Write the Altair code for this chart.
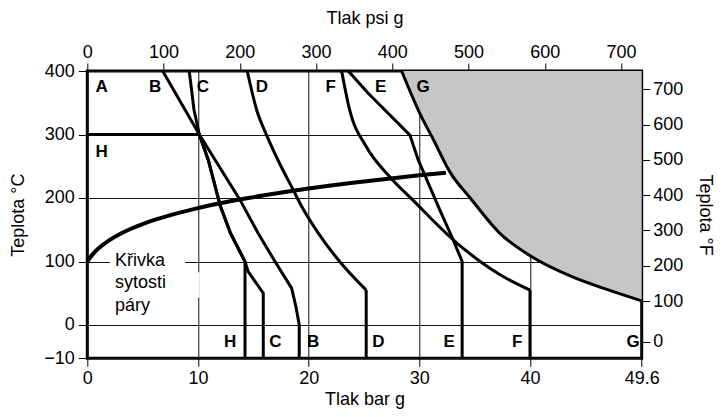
import altair as alt
import pandas as pd

# ---- data (pressure in bar g, temperature in °C) ----
B_bar = [6.81, 10.12, 13.8, 15.45, 16.96, 18.46, 18.85, 19.15, 19.15]
B_t = [400, 300, 197, 144, 100, 58, 29, 0, -10]
C_bar = [9.21, 9.64, 10.12, 10.93, 11.99, 12.95, 14.25, 14.54, 15.9, 15.9]
C_t = [400, 339, 300, 260, 189, 144, 100, 84, 50, -10]
H_bar = [0, 10.12, 10.93, 11.99, 12.95, 14.25, 14.25]
H_t = [300, 300, 260, 189, 144, 100, -10]
D_bar = [14.45, 15.3, 16.2, 17.5, 18.6, 19.3, 20.9, 22.8, 25.2, 25.2]
D_t = [400, 339, 299, 250, 213, 189, 144, 100, 55, -10]
E_bar = [23.58, 25.38, 29.15, 29.9, 31.86, 33.06, 33.87, 33.87]
E_t = [400, 365, 299, 260, 181, 134, 100, -10]
F_bar = [22.98, 23.7, 25.2, 27.3, 29.4, 33.4, 35.5, 37.3, 40.0, 40.0]
F_t = [400, 339, 281, 234, 197, 129, 100, 79, 55, -10]
G_bar = [28.4, 30.0, 31.3, 32.8, 34.6, 37.3, 40.2, 43.6, 46.6, 49.6]
G_t = [400, 335, 291, 240, 200, 144, 107, 76, 56, 38]
SAT_bar = [0, 0.5, 1, 2, 3, 4, 5, 6, 8, 10, 12, 14, 16, 18, 20, 22, 24, 26, 28, 30, 32.4]
SAT_t = [100, 111.6, 120.4, 133.7, 143.8, 152.0, 158.9, 165.0, 175.4, 184.1, 191.6,
         198.3, 204.3, 209.8, 214.9, 219.6, 224.0, 228.1, 232.0, 235.7, 239.9]

zone_names = ["A", "B", "C", "D", "F", "E", "G", "H",
              "H", "C", "B", "D", "E", "F", "G"]
zone_bar = [1.3, 6.12, 10.45, 15.78, 22.0, 26.5, 30.35, 1.3,
            12.9, 17.0, 20.4, 26.3, 32.7, 38.84, 48.87]
zone_t = [375, 375, 375, 375, 375, 375, 375, 273,
          -5, -5, -5, -5, -5, -5, -5]

sat_label_lines = ["Křivka", "sytosti", "páry"]
sat_label_bar = [2.5, 2.5, 2.5]
sat_label_t = [100, 66, 30]

bar_ticks = [0, 10, 20, 30, 40, 49.6]
c_ticks = [-10, 0, 100, 200, 300, 400]
psi_ticks = [0, 100, 200, 300, 400, 500, 600, 700]
f_ticks = [0, 100, 200, 300, 400, 500, 600, 700]

# ---- tables ----
straight_rows, curved_rows, drop_rows = [], [], []
for name, xs, ts in [("B", B_bar, B_t), ("C", C_bar, C_t), ("H", H_bar, H_t),
                     ("E", E_bar, E_t)]:
    for i, (x, t) in enumerate(zip(xs, ts)):
        straight_rows.append({"curve": name, "i": i, "bar": x, "t": t})
for name, xs, ts in [("D", D_bar, D_t), ("F", F_bar, F_t)]:
    for i, (x, t) in enumerate(zip(xs[:-1], ts[:-1])):
        curved_rows.append({"curve": name, "i": i, "bar": x, "t": t})
    for i, (x, t) in enumerate(zip(xs[-2:], ts[-2:])):
        drop_rows.append({"curve": name, "i": i, "bar": x, "t": t})
straight = pd.DataFrame(straight_rows)
curved = pd.DataFrame(curved_rows)
drops = pd.DataFrame(drop_rows)
gzone = pd.DataFrame({"bar": G_bar, "t": G_t})
sat = pd.DataFrame({"bar": SAT_bar, "t": SAT_t, "i": range(len(SAT_bar))})
zones = pd.DataFrame({"name": zone_names, "bar": zone_bar, "t": zone_t})
satlab = pd.DataFrame({"txt": sat_label_lines, "bar": sat_label_bar, "t": sat_label_t})
masks = pd.DataFrame({"x1": [2.05, 9.85], "x2": [8.83, 10.15],
                      "y1": [96, 43], "y2": [104, 83]})

FONT = "Liberation Sans"
W, H = 554.4, 287.3

xscale = alt.Scale(domain=[0, 40, 49.6], range=[0, 442.7, W], nice=False, zero=False)
yscale = alt.Scale(domain=[-10, 0, 400], range=[H, 254, 0], nice=False, zero=False)

xaxis = alt.Axis(values=bar_ticks, labelExpr="'' + datum.value", title="Tlak bar g",
                 grid=True, gridColor="#111",
                 gridWidth=1, domain=False, tickSize=8, labelPadding=3, labelFlush=False,
                 titleX=W / 2, titleY=41, titleBaseline="middle")
yaxis = alt.Axis(values=c_ticks, title="Teplota °C", grid=True, gridColor="#111",
                 gridWidth=1, domain=False, tickSize=9, labelPadding=4,
                 titleX=-69, titleY=H / 2, titleBaseline="middle")

X = alt.X("bar:Q", scale=xscale, axis=xaxis)
Y = alt.Y("t:Q", scale=yscale, axis=yaxis)

mask_layer = alt.Chart(masks).mark_rect(color="white").encode(
    x=alt.X("x1:Q", scale=xscale, axis=xaxis), x2="x2:Q",
    y=alt.Y("y1:Q", scale=yscale, axis=yaxis), y2="y2:Q")

area = alt.Chart(gzone).mark_area(color="#c6c6c6", opacity=1, interpolate="monotone").encode(
    x=X, y=Y, y2=alt.datum(400))

gline = alt.Chart(gzone).mark_line(color="black", strokeWidth=3, interpolate="monotone").encode(
    x=X, y=Y)

lines = alt.Chart(straight).mark_line(color="black", strokeWidth=3, strokeJoin="miter").encode(
    x=X, y=Y, detail="curve:N", order="i:Q")

clines = alt.Chart(curved).mark_line(color="black", strokeWidth=3, interpolate="monotone").encode(
    x=X, y=Y, detail="curve:N", order="i:Q")

dlines = alt.Chart(drops).mark_line(color="black", strokeWidth=3).encode(
    x=X, y=Y, detail="curve:N", order="i:Q")

hline = alt.Chart(sat).mark_line(color="black", strokeWidth=4, interpolate="monotone").encode(
    x=X, y=Y, order="i:Q")

zone_text = alt.Chart(zones).mark_text(font=FONT, fontSize=17, fontWeight="bold",
                                       align="center", baseline="middle", color="black").encode(
    x=X, y=Y, text="name:N")

sat_text = alt.Chart(satlab).mark_text(font=FONT, fontSize=18, align="left",
                                       baseline="middle", color="black").encode(
    x=X, y=Y, text="txt:N")

main = alt.layer(mask_layer, area, gline, lines, clines, dlines, hline, zone_text, sat_text)

aux = pd.DataFrame({"psi": [0, 700], "F": [0, 700]})
aux_layer = alt.Chart(aux).mark_point(opacity=0).encode(
    x=alt.X("psi:Q", scale=alt.Scale(domain=[0, 727], range=[0, W], nice=False, zero=False),
            axis=alt.Axis(orient="top", values=psi_ticks, title="Tlak psi g", grid=False,
                          domain=False, tickSize=8, labelPadding=2, labelFlush=False,
                          titleX=W / 2, titleY=-53, titleBaseline="middle")),
    y=alt.Y("F:Q", scale=alt.Scale(domain=[0, 32, 752], range=[270.7, 254, 0], nice=False, zero=False),
            axis=alt.Axis(orient="right", values=f_ticks, title="Teplota °F", grid=False,
                          domain=False, tickSize=8, labelPadding=3,
                          titleX=63, titleY=H / 2, titleBaseline="middle")))

chart = alt.layer(main, aux_layer).resolve_scale(x="independent", y="independent").properties(
    width=W, height=H, autosize="none",
    padding={"left": 79.3, "top": 63, "right": 75, "bottom": 50.5}
).configure_view(stroke="black", strokeWidth=3).configure_axis(
    labelFont=FONT, titleFont=FONT, labelFontSize=18, titleFontSize=18,
    titleFontWeight="normal", labelColor="black", titleColor="black",
    tickColor="black", tickWidth=1
)

chart.save("out.html", embed_options={"renderer": "svg", "actions": False})
